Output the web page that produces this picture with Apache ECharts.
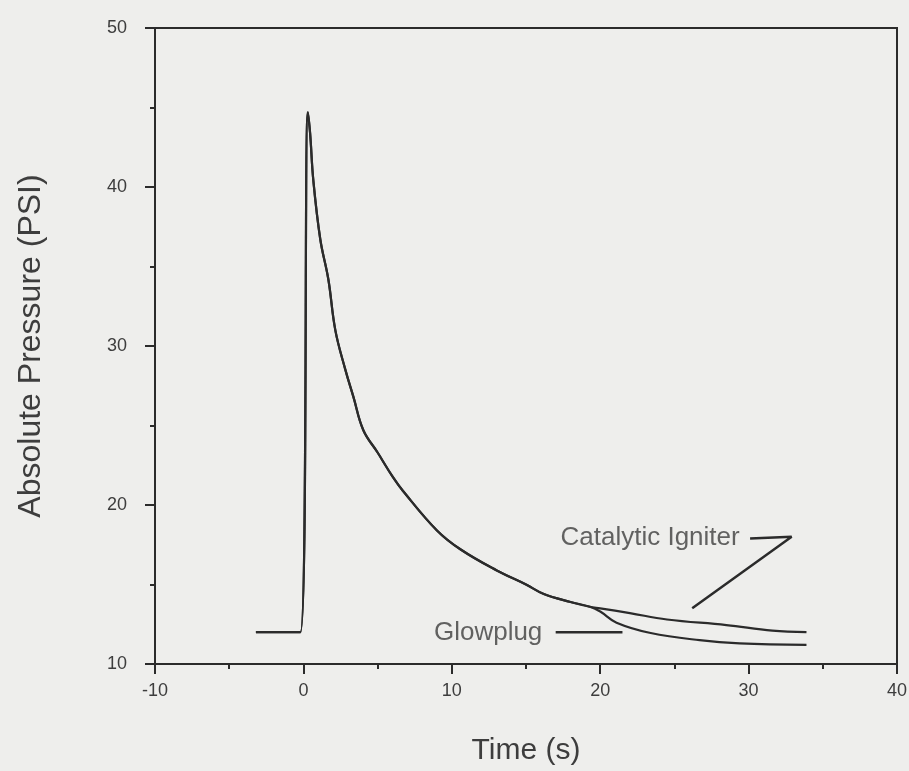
<!DOCTYPE html>
<html>
<head>
    <meta charset="UTF-8">
    <title>Absolute Pressure vs Time</title>
    <script src="https://cdn.jsdelivr.net/npm/echarts@6/dist/echarts.min.js"></script>
    <style>
        html, body { margin: 0; padding: 0; background: #eeeeec; }
        #chart { width: 909px; height: 771px; }
    </style>
</head>
<body>
<div id="chart"></div>
<script>
    // pressure trace, shared part (both igniters overlap until ~19 s)
    var sharedTrace = [
        [-3.2, 12], [-0.2, 12], [0.3, 44.7], [0.45, 43.4], [0.67, 40.4], [1.14, 36.7],
        [1.68, 34.2], [2.15, 31.0], [2.83, 28.5], [3.37, 26.8], [4.04, 24.7],
        [5.0, 23.3], [6.0, 21.8], [6.7, 20.9], [9.0, 18.4], [10.6, 17.2],
        [13, 15.9], [15, 15.0], [16.2, 14.4], [18, 13.9], [19.3, 13.6]
    ];
    var catalyticTail = [[20, 13.5], [22, 13.2], [24.5, 12.8], [28.5, 12.45], [31.6, 12.1], [33.9, 12.0]];
    var glowplugTail = [[20, 13.3], [21.1, 12.6], [23.4, 11.95], [26.7, 11.5], [29.4, 11.3], [33.9, 11.2]];

    // annotation leaders
    var catalyticLeader = [[30.1, 17.9], [32.9, 18.0], [26.2, 13.5]];
    var glowplugLeader = [[17.0, 12.0], [21.5, 12.0]];
    var labelNames = ['Catalytic Igniter', 'Glowplug'];
    var labelAnchors = [[29.4, 17.95], [16.1, 11.95]];

    var xTicks = [-10, 0, 10, 20, 30, 40];
    var yTicks = [10, 20, 30, 40, 50];

    var ink = '#2b2b2b';
    var textInk = '#3d3d3d';
    var font = 'Liberation Sans';

    var chart = echarts.init(document.getElementById('chart'));
    chart.setOption({
        backgroundColor: '#eeeeec',
        animation: false,
        grid: {
            left: 155, right: 12, top: 28, bottom: 107,
            outerBoundsMode: 'none', containLabel: false,
            show: true, borderColor: ink, borderWidth: 2
        },
        xAxis: {
            type: 'value', min: xTicks[0], max: xTicks[xTicks.length - 1], interval: 10,
            name: 'Time (s)', nameLocation: 'middle', nameGap: 72,
            nameTextStyle: { fontFamily: font, fontSize: 30, color: textInk },
            axisLine: { onZero: false, lineStyle: { color: ink, width: 2 } },
            axisTick: { show: true, length: 10, lineStyle: { color: ink, width: 2 } },
            minorTick: { show: true, splitNumber: 2, length: 5, lineStyle: { color: ink, width: 2 } },
            axisLabel: { fontFamily: font, fontSize: 18, color: textInk, margin: 18 },
            splitLine: { show: false }
        },
        yAxis: {
            type: 'value', min: yTicks[0], max: yTicks[yTicks.length - 1], interval: 10,
            name: 'Absolute Pressure (PSI)', nameLocation: 'middle', nameGap: 108,
            nameTextStyle: { fontFamily: font, fontSize: 32, color: textInk },
            axisLine: { onZero: false, lineStyle: { color: ink, width: 2 } },
            axisTick: { show: true, length: 10, lineStyle: { color: ink, width: 2 } },
            minorTick: { show: true, splitNumber: 2, length: 5, lineStyle: { color: ink, width: 2 } },
            axisLabel: { fontFamily: font, fontSize: 18, color: textInk, margin: 28 },
            splitLine: { show: false }
        },
        series: [
            {
                name: 'Catalytic Igniter', type: 'line', smooth: 0.4, symbol: 'none',
                data: sharedTrace.concat(catalyticTail),
                lineStyle: { color: ink, width: 2.2 }
            },
            {
                name: 'Glowplug', type: 'line', smooth: 0.4, symbol: 'none',
                data: sharedTrace.concat(glowplugTail),
                lineStyle: { color: ink, width: 2.2 }
            },
            {
                type: 'line', symbol: 'none', data: catalyticLeader,
                lineStyle: { color: ink, width: 2.5 }
            },
            {
                type: 'line', symbol: 'none', data: glowplugLeader,
                lineStyle: { color: ink, width: 2.5 }
            },
            {
                type: 'scatter', symbolSize: 0,
                data: labelAnchors.map(function (p, i) { return { value: p, name: labelNames[i] }; }),
                label: {
                    show: true, position: 'left', distance: 0,
                    formatter: '{b}',
                    fontFamily: font, fontSize: 26, color: textInk
                }
            }
        ]
    });
</script>
</body>
</html>
